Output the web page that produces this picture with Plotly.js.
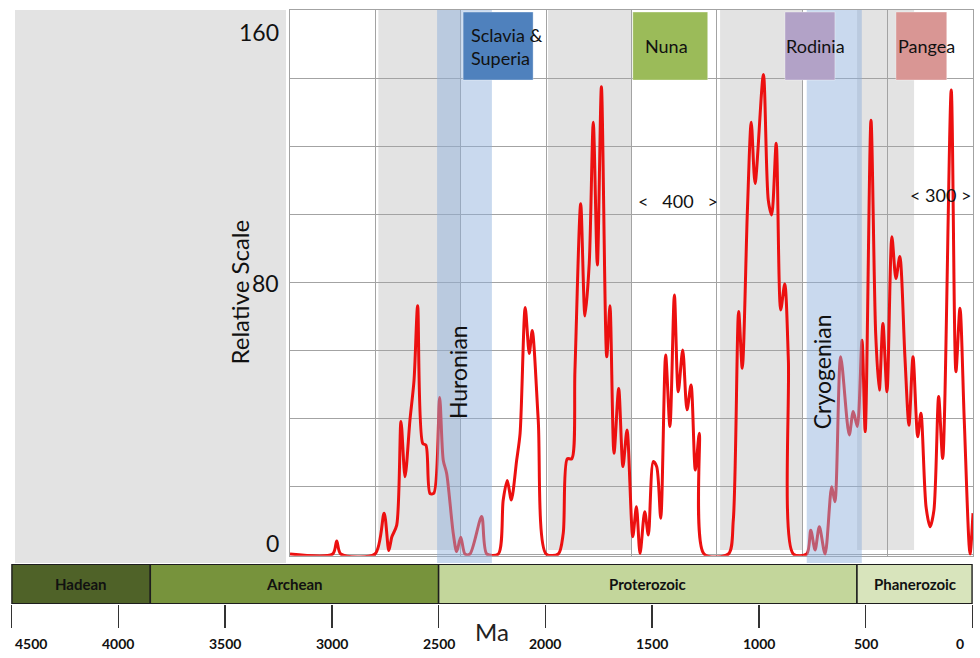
<!DOCTYPE html>
<html>
<head>
<meta charset="utf-8">
<script src="https://cdn.plot.ly/plotly-3.0.1.min.js"></script>
<style>html,body{margin:0;padding:0;background:#fff;}#chart{width:980px;height:658px;}</style>
</head>
<body>
<div id="chart"></div>
<script>
// ---------- DATA ----------
const ages = [3200,3000,2981,2962,2802,2759,2737,2723,2700,2680,2661,2638,2619,2602,2578,2563,2544,2526,2499,2482,2466,2435,2419,2400,2380,2357,2302,2278,2224,2201,2182,2163,2138,2122,2098,2079,2065,2037,2000,1943,1920,1901,1880,1865,1838,1818,1798,1779,1760,1741,1716,1701,1682,1660,1640,1621,1594,1577,1560,1538,1521,1498,1482,1463,1440,1420,1399,1381,1360,1340,1321,1301,1282,1260,1146,1123,1098,1081,1057,1039,1021,982,959,943,922,901,882,865,842,779,760,740,720,693,662,647,620,580,561,542,520,505,478,456,439,422,403,380,361,343,319,300,281,259,244,220,201,183,161,142,102,80,61,41,14,0];
const relScale = [0,0,3.8,0,0,12,1,5,8.5,39,22.7,39.4,51,73,32.5,32,17.8,17.9,46,27.6,23.7,6,0.7,4.9,0,0,11,0,0,15.9,21.6,15.9,27.6,35.5,72.5,59,65.7,39.4,0,0,6,28,28,54,103,70,85.5,127,85,137.4,58,73,29.6,48.7,25.7,36.5,5.1,13.9,0.2,12.4,5.6,27.2,25.7,10.5,58.5,37.5,76.2,47.7,60,42.4,49.7,24.7,35.5,0,0,10,71.3,54.6,101,127,109,141,104,99.7,120.8,71.8,79.4,57,0,0,7,1.2,8,0,19.8,15.4,58,35,41.9,37.5,62.9,36,127.6,64.9,48.2,67.8,47.7,93.3,81,87.5,58,37.9,58,34.5,41.4,13.9,8,12.9,46.3,28.1,136.5,53.6,72.3,39.4,0,12];

const eraNames = ['Hadean','Archean','Proterozoic','Phanerozoic'];
const eraStart = [4500,3850,2500,541];
const eraEnd = [3850,2500,541,0];
const eraColors = ['#4f6228','#77933c','#c3d69b','#d8e4bc'];

const glacNames = ['Huronian','Cryogenian'];
const glacStart = [2511,779];
const glacEnd = [2254,521];
const glacLabelAges = [2413,707];
const glacLabelValues = [53.5,53.5];

const grayStart = [2786,1991,1185,543];
const grayEnd = [2400,1598,801,276];

const contNames = ['Sclavia &<br>Superia','Nuna','Rodinia','Pangea'];
const contStart = [2389,1594,881,361];
const contEnd = [2061,1243,647,123];
const contColors = ['#4f81bd','#9bbb59','#b2a2c7','#d99694'];

const gapLabels = ['<   400   >','< 300 >'];
const gapAges = [1382,150];
const gapValues = [103.8,105.6];

const xTickVals = [4500,4000,3500,3000,2500,2000,1500,1000,500,0];
const xTickText = ['4500','4000','3500','3000','2500','2000','1500','1000','500','0'];
const yGridVals = [0,20,40,60,80,100,120,140,160];
const yTickVals = [160,80,0];
const yTickText = ['160','80','0'];

// ---------- LAYOUT HELPERS ----------
const W = 980, H = 658;
const px = v => v / W;
const py = v => (H - v) / H;
const FONT = 'Lato, "Open Sans", sans-serif';
const gridC = '#a3a3a3';

const shapes = [];
const annotations = [];

// left grey panel
shapes.push({type:'rect', xref:'paper', yref:'paper', x0:px(15), x1:px(286), y0:py(563), y1:py(10),
  fillcolor:'#e3e3e3', line:{width:0}, layer:'below'});

// grey bands
grayStart.forEach((s,i) => shapes.push({type:'rect', xref:'x', yref:'y', x0:s, x1:grayEnd[i], y0:1.2, y1:160,
  fillcolor:'#e3e3e3', line:{width:0}, layer:'below'}));

// glaciation bands (above line, translucent)
glacStart.forEach((s,i) => shapes.push({type:'rect', xref:'x', yref:'paper', x0:s, x1:glacEnd[i], y0:py(563), y1:py(10),
  fillcolor:'rgba(142,176,220,0.48)', line:{width:0}, layer:'above'}));

// supercontinent boxes
contStart.forEach((s,i) => shapes.push({type:'rect', xref:'x', yref:'y', x0:s, x1:contEnd[i], y0:139.4, y1:159.4,
  fillcolor:contColors[i], line:{width:1, color:'rgba(255,255,255,0.35)'}, layer:'above'}));

// era bar
eraStart.forEach((s,i) => shapes.push({type:'rect', xref:'x2', yref:'y2', x0:s, x1:eraEnd[i], y0:0, y1:1,
  fillcolor:eraColors[i], line:{width:1.5, color:'#1e1e1e'}, layer:'above'}));
shapes.push({type:'rect', xref:'x2', yref:'y2', x0:4500, x1:0, y0:0, y1:1, fillcolor:'rgba(0,0,0,0)',
  line:{width:2, color:'#1e1e1e'}, layer:'above'});

// era labels
eraNames.forEach((n,i) => annotations.push({xref:'x2', yref:'y2', x:(eraStart[i]+eraEnd[i])/2, y:0.5, text:'<b>'+n+'</b>',
  showarrow:false, font:{family:FONT, size:15, color:'#111'}}));

// bottom tick labels
xTickVals.forEach((v,i) => annotations.push({xref:'x2', yref:'paper', x:v, y:py(643), yanchor:'middle',
  text:'<b>'+xTickText[i]+'</b>', showarrow:false, font:{family:FONT, size:14, color:'#111'},
  xshift: v === 4500 ? 19 : (v === 0 ? -13 : 0)}));

annotations.push({xref:'paper', yref:'paper', x:px(492), y:py(648), text:'Ma', showarrow:false,
  font:{family:FONT, size:24, color:'#222'}});

// y tick labels
const yShift = {160:-22, 80:-1, 0:11};
yTickVals.forEach((v,i) => annotations.push({xref:'paper', yref:'y', x:px(281), xanchor:'right', y:v, yshift:yShift[v],
  text:yTickText[i], showarrow:false, font:{family:FONT, size:23, color:'#111'}}));

annotations.push({xref:'paper', yref:'paper', x:px(222), y:py(292), text:'Relative Scale', textangle:-90,
  showarrow:false, font:{family:FONT, size:24, color:'#111'}});

// glaciation labels
glacNames.forEach((n,i) => annotations.push({xref:'x', yref:'y', x:glacLabelAges[i], y:glacLabelValues[i],
  text:n, textangle:-90, showarrow:false, font:{family:FONT, size:23, color:'#111'}}));

// supercontinent labels
const contShift = [6, 10, -1, 0];
contNames.forEach((n,i) => annotations.push({xref:'x', yref:'y', x:contStart[i], xanchor:'left', xshift:contShift[i], y:149.4,
  text:n, showarrow:false, align:'left', font:{family:FONT, size:18, color:'#111'}}));

// gap labels
gapLabels.forEach((n,i) => annotations.push({xref:'x', yref:'y', x:gapAges[i], y:gapValues[i], text:n,
  showarrow:false, font:{family:FONT, size:18, color:'#111'}}));

const trace = {x:ages, y:relScale, xaxis:'x', yaxis:'y', type:'scatter', mode:'lines',
  line:{color:'rgb(236,16,16)', width:3, shape:'spline', smoothing:0.8}, hoverinfo:'skip'};

const layout = {
  width:W, height:H, margin:{l:0,r:0,t:0,b:0},
  paper_bgcolor:'#ffffff', plot_bgcolor:'rgba(0,0,0,0)', showlegend:false,
  xaxis:{domain:[px(290), px(973)], range:[3200,0], anchor:'y', tickvals:[3200,2800,2400,2000,1600,1200,800,400,0],
    showticklabels:false, ticks:'', showgrid:true, gridcolor:gridC, gridwidth:1, zeroline:false,
    showline:true, mirror:true, linecolor:gridC, linewidth:1},
  yaxis:{domain:[py(555.7), py(10)], range:[-0.5,160], anchor:'x', tickvals:yGridVals, showticklabels:false, ticks:'',
    showgrid:true, gridcolor:gridC, gridwidth:1, zeroline:false, showline:true, mirror:true, linecolor:gridC, linewidth:1},
  xaxis2:{domain:[px(11.5), px(972.5)], range:[4500,0], anchor:'y2', tickvals:xTickVals, showticklabels:false,
    ticks:'outside', ticklen:23, tickwidth:1.5, tickcolor:'#333', showgrid:false, zeroline:false, showline:false},
  yaxis2:{domain:[py(604), py(564)], range:[0,1], anchor:'x2', visible:false},
  shapes:shapes, annotations:annotations
};

Plotly.newPlot('chart', [trace], layout, {staticPlot:true, displayModeBar:false});
</script>
</body>
</html>
